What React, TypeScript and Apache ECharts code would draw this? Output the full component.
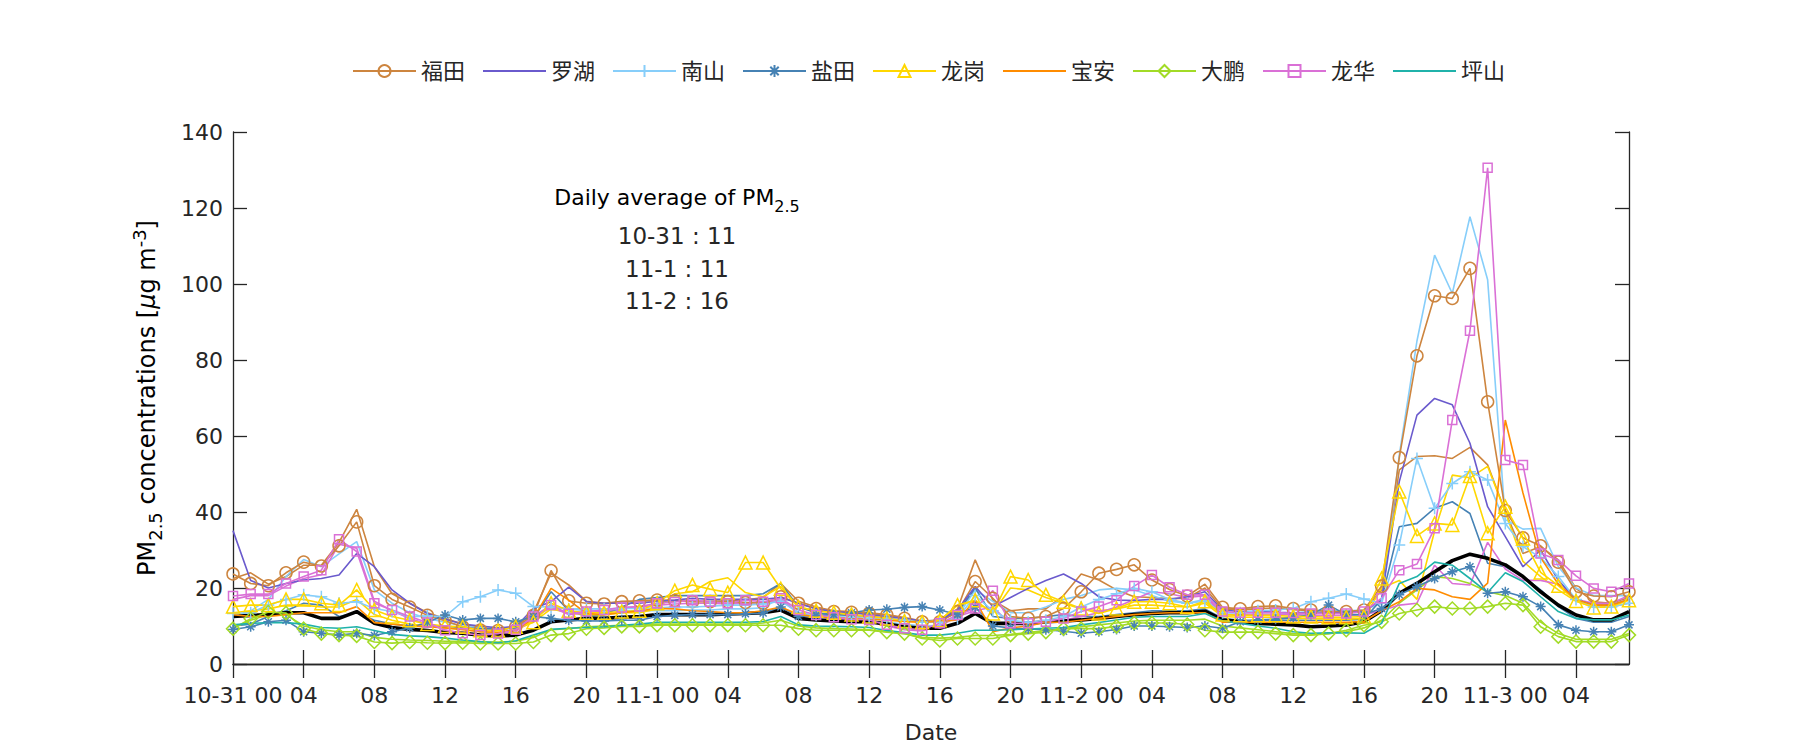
import React, { useEffect, useRef } from "react";
import * as echarts from "echarts";

// ---------- data ----------
const DAYS = ["10-31", "11-1", "11-2", "11-3"];
const N_HOURS = 80;
const CATEGORIES: string[] = [];
for (let i = 0; i < N_HOURS; i++) {
  const d = Math.floor(i / 24);
  const h = i % 24;
  CATEGORIES.push(h === 0 ? `${DAYS[d]} 00` : String(h).padStart(2, "0"));
}

const FUTIAN = [
  23.7, 21.2, 20.6, 24.0, 26.8, 25.8, 31.1, 37.4, 20.6, 17.0, 15.0, 12.8, 11.4, 9.8, 8.9, 8.8, 9.8, 12.8, 24.6, 16.6, 16.0, 15.8, 16.4, 16.6,
  16.8, 16.7, 16.4, 16.4, 16.4, 16.2, 16.0, 17.7, 16.0, 14.6, 13.8, 13.6, 13.3, 12.9, 12.0, 11.1, 11.1, 13.8, 21.7, 17.3, 12.5, 12.0, 12.5, 14.6,
  19.0, 23.9, 24.9, 26.1, 22.1, 19.6, 17.9, 21.0, 14.9, 14.5, 15.1, 15.3, 14.6, 14.2, 13.8, 13.8, 14.2, 20.5, 54.3, 81.1, 96.9, 96.2, 104.1, 69.0, 40.4, 33.2, 31.1, 26.8, 19.0, 17.9, 17.7, 19.0,
];
const FUTIAN_B = [
  22.5, 24, 21, 23, 26, 26, 32, 40.7, 25.6, 18.5, 16, 13.5, 12, 10.5, 9.5, 9.2, 10, 13.5, 23.9, 20.8, 16.5, 16, 16.5, 16.5,
  16.8, 16.5, 16.5, 16.5, 16.6, 16.8, 17.5, 21.2, 16.5, 15, 14, 13.8, 13.5, 13, 12.2, 11.3, 11.5, 14.5, 27.4, 16.8, 14.0, 14.5, 14.5, 18,
  23.7, 22.1, 19.5, 17.7, 17.5, 17.2, 17.3, 20.0, 14.5, 14.3, 14.5, 14.8, 14.3, 14.0, 13.6, 13.5, 14.0, 19.5, 51.1, 54.6, 54.8, 54.1, 57.0, 52.4, 40.1, 29.1, 30.9, 27.4, 19.9, 16.4, 16.0, 17.5,
];
const LUOHU = [
  35.1, 22, 20, 21.2, 22.1, 22.5, 23.4, 29.1, 25.6, 19.5, 16.0, 13.3, 11.8, 10.5, 10, 9.5, 9.8, 14.6, 16.4, 20.2, 16.4, 16.0, 16, 16,
  16.5, 16.8, 17.3, 17, 17, 17, 17, 17.5, 16, 14.5, 13.8, 13.5, 13, 12.5, 12, 11.3, 11.5, 14.2, 20.4, 15.1, 17.5, 19.9, 22, 23.7,
  21.2, 17.7, 16.8, 16.7, 17.0, 17.0, 17.7, 19.0, 14.2, 13.8, 13.8, 13.6, 13.5, 13.4, 13.4, 13.5, 13.8, 17, 48, 65.5, 69.9, 68.2, 58.1, 41.4, 33.5, 25.6, 30, 22, 17, 15.5, 15.5, 17,
];
const NANSHAN = [
  13.3, 13.5, 15.5, 17.0, 18.2, 17.7, 16.0, 16.4, 14.6, 13.8, 12.5, 12.6, 12.5, 16.4, 17.7, 19.5, 18.6, 15.1, 15, 14.5, 14.5, 14.5, 14.6, 14.6,
  14.8, 15, 15, 15.2, 15.5, 15.5, 15.8, 16.5, 13.5, 12.8, 12.5, 12.3, 12, 11.8, 11.5, 11, 11, 12, 18, 14, 11.5, 11, 11.5, 12.5,
  15, 17, 18.5, 19.9, 19, 17, 16, 16.5, 13.5, 13.5, 14, 14.2, 14.6, 16.4, 17.3, 18.4, 17.1, 16, 31.3, 54.1, 41.0, 47.5, 50.6, 48.4, 37.0, 30.9, 28, 23, 17, 15, 15, 16,
];
const NANSHAN_B = [
  12.5, 14, 17, 23, 27.5, 25.6, 29, 32.2, 19.5, 16, 13.5, 12, 11, 10, 9.5, 9, 9.5, 12.5, 15, 14.5, 14, 14, 14, 14,
  14, 14, 14.2, 14.2, 14.5, 14.5, 14.8, 17.5, 13, 12.5, 12, 11.8, 11.5, 11, 10.5, 10, 10.2, 12.5, 19.5, 16.5, 13.5, 13.5, 15, 17,
  18, 19.5, 19.9, 19.5, 18, 16.5, 16, 17, 13.5, 13.5, 13.5, 13.5, 13.5, 13.8, 14, 14, 14.2, 16, 55, 85, 107.6, 97.5, 117.7, 101.1, 38, 35.5, 35.7, 25.6, 20, 18, 18, 18,
];
const YANTIAN = [
  9.1, 9.8, 11.1, 11.5, 8.5, 8.1, 7.6, 8.1, 7.5, 8.5, 9.5, 11, 12.9, 11.6, 12.0, 12.0, 11.1, 12.5, 12, 11.5, 11.3, 11.3, 11.5, 11.5,
  12.5, 12.8, 13, 13, 13, 13.2, 13.4, 15, 12.5, 12.8, 13, 13.5, 14.2, 14.4, 14.9, 15.1, 14.2, 13, 15, 10, 9.5, 9.2, 9, 8.6,
  8.1, 8.5, 9.1, 10, 10, 9.8, 9.6, 10, 9.4, 11.1, 11.6, 11.8, 12.2, 13, 15.5, 13, 13, 14.6, 18.2, 20.4, 22.5, 24.3, 25.6, 18.6, 19.0, 17.7, 15.1, 10.3, 8.9, 8.5, 8.5, 10.3,
];
const YANTIAN_B = [
  10, 10.5, 12.5, 14, 16, 15.5, 12.5, 13.5, 11.5, 10.5, 10, 9.8, 10, 9.5, 9.3, 9.2, 9.5, 12, 19, 14, 12.5, 13, 15, 17,
  17.5, 18, 18, 18, 18, 18, 18.5, 21.2, 15, 13.5, 13, 12.8, 12.5, 12, 11.5, 11, 11.5, 13.5, 20, 12.5, 12, 12, 12.5, 13,
  12.5, 12.5, 13, 13.5, 14, 14, 14, 14.5, 12, 11.5, 11.5, 11.5, 11.5, 11.5, 11.5, 11.5, 11.8, 17, 36.1, 37.0, 41.0, 42.7, 39.6, 26.5, 25.6, 23.0, 19.5, 15.1, 12.0, 11, 11, 12.5,
];
const LONGGANG = [
  15.1, 15.5, 15.5, 17.0, 17.0, 16.0, 15.5, 19.5, 14.2, 12.5, 11.5, 10.5, 10, 9.8, 8.9, 8.8, 9.8, 11, 16, 14, 13.5, 13.5, 13.8, 14,
  16, 19.3, 20.8, 19.7, 18.8, 26.7, 26.7, 19.8, 15, 14, 13.5, 13, 12.5, 12, 11.3, 11, 11.5, 15.5, 16.8, 13.3, 23.0, 22.1, 18.2, 16.4,
  14.6, 13.3, 14.6, 16.4, 16.4, 16.0, 15, 16.5, 13, 12.8, 12.8, 12.8, 12.5, 12.5, 12.3, 12.3, 12.5, 22.5, 45.4, 33.7, 37, 36.6, 49.5, 34.4, 41.4, 33, 24.1, 20.6, 16.6, 14.9, 15.1, 16.8,
];
const LONGGANG_B = [
  13.5, 14, 14.5, 15.5, 15.5, 15, 15, 17, 13, 11.5, 10.5, 10, 9.5, 9.2, 8.5, 8.3, 9, 11, 14.5, 13.5, 13, 13, 13.5, 13.5,
  14.5, 18.5, 19.0, 21.7, 22.7, 18.8, 17.7, 20.4, 15, 14, 13.5, 13, 12.5, 12, 11.3, 11, 11.5, 15.5, 16.5, 13.5, 20, 19.5, 17.5, 16,
  14.5, 14, 14.5, 15.5, 15.5, 15.2, 15, 16, 12.5, 12.3, 12.3, 12.3, 12, 12, 11.8, 11.8, 12, 20, 22, 17, 35, 49.7, 49, 52, 40, 27, 23, 19.5, 16.5, 15, 15, 16,
];
const BAOAN = [
  13, 12.5, 12.5, 13, 13.5, 13.5, 13.5, 15.1, 10.9, 10.5, 10, 9.8, 9.5, 9, 8.5, 8.3, 9, 12, 19.9, 16.8, 13.3, 13, 13.5, 14,
  14.6, 14.5, 14, 13.8, 13.5, 13.5, 14, 15, 13, 12.5, 12.2, 12, 11.8, 11.5, 11.2, 11, 11.2, 11.6, 16.8, 8.5, 9.5, 10, 11, 11,
  11.5, 12, 12.5, 13, 13.3, 13.5, 13.5, 13.5, 11, 11, 11, 11, 11, 11, 11, 11, 11.2, 14, 16.4, 19.9, 19.5, 17.7, 17.0, 21.3, 64.2, 45, 28, 21, 17, 15.5, 15.5, 17,
];
const DAPENG = [
  9.3, 11.9, 13.7, 13.4, 9.3, 8.0, 7.6, 7.4, 5.8, 5.5, 5.8, 5.6, 5.5, 5.6, 5.4, 5.4, 5.4, 5.8, 7.6, 8.0, 9.3, 9.5, 9.9, 9.9,
  10.2, 10.2, 10.2, 10.2, 10.2, 10.2, 10.2, 10.2, 9.3, 8.9, 8.9, 8.9, 8.9, 8.4, 8.0, 6.7, 6.2, 6.7, 6.7, 6.7, 7.6, 8.0, 8.4, 9.3,
  9.3, 9.3, 9.9, 10.8, 10.8, 10.8, 10.4, 8.9, 8.4, 8.4, 8.4, 8.0, 7.6, 7.6, 8.0, 8.9, 10.2, 11.1, 13.3, 14.2, 15.1, 14.6, 14.6, 15.1, 16.0, 15.5, 9.8, 7.2, 5.9, 5.9, 5.9, 7.6,
];
const DAPENG_B = [
  9.5, 11.5, 13, 13, 10, 9, 8.5, 8.5, 7, 6.5, 6.3, 6.2, 6, 6, 5.8, 5.8, 6, 7, 9, 9.3, 9.8, 10, 10.2, 10.3,
  10.5, 10.5, 10.5, 10.5, 10.5, 10.5, 10.8, 11.5, 10, 9.5, 9.3, 9.2, 9, 8.5, 8, 7, 6.8, 7, 7.5, 7.5, 7.8, 8.3, 8.8, 9.3,
  9.8, 10.3, 10.8, 11.3, 11.5, 11.5, 11.5, 11.8, 10, 9.5, 9, 8.5, 8, 7.8, 8, 8.5, 9.5, 11.5, 16, 19.5, 23, 22.5, 21.2, 19, 18, 16, 11, 8, 6.5, 6.5, 6.5, 8,
];
const LONGHUA = [
  17.9, 18.4, 18.4, 21.2, 23.0, 24.7, 32.8, 29.6, 16.0, 14.2, 12.5, 10.9, 8.9, 8.1, 7.6, 8, 9, 12.5, 15.5, 13.2, 13.8, 14.2, 14.9, 15.1,
  16, 16.3, 16.8, 16.4, 16, 16.8, 16.4, 17.3, 14.2, 12.9, 12.3, 11.8, 11.6, 10.3, 9.4, 9, 10.7, 12.9, 14.6, 19.3, 10.7, 10.7, 11.1, 12,
  13.8, 15.1, 16.8, 20.5, 23.4, 20.2, 18.2, 18.2, 13.8, 13.5, 13.5, 13.5, 13.4, 13.3, 13.3, 13.3, 13.8, 17.3, 24.7, 26.3, 35.7, 64.2, 87.7, 130.6, 53.7, 52.4, 29.1, 27.4, 23.2, 19.9, 19.0, 21.2,
];
const LONGHUA_B = [
  17, 18, 18, 20.5, 22.5, 23.5, 31.5, 30.5, 16.5, 14, 12, 10.5, 9, 8, 7.5, 7.8, 8.5, 12, 15, 13, 13.5, 14, 14.5, 15,
  15.5, 15.8, 16, 16, 15.8, 16, 16.2, 16.8, 13.5, 12.5, 12, 11.5, 11.2, 10, 9, 8.7, 10, 12.5, 14, 15, 10.5, 10.5, 11, 11.5,
  12.5, 13.5, 15, 17, 19, 18.5, 17.5, 18, 13, 13, 13, 13, 13, 12.8, 12.8, 12.8, 13, 14, 15.5, 16, 26, 21.2, 20.8, 32, 25, 22, 22, 21, 17, 16, 16, 18,
];
const PINGSHAN = [
  10.3, 10.7, 10.9, 10.9, 10.5, 9.6, 9.4, 9.8, 8.8, 7.8, 7.4, 7.2, 6.8, 6.3, 5.9, 5.6, 6.1, 7.6, 9.1, 9.4, 9.6, 9.8, 10.2, 10.5,
  11, 11, 11, 11, 11, 11, 11.2, 12.5, 10.3, 10, 9.9, 9.8, 9.6, 8.8, 8.3, 7.6, 7.6, 8.1, 8.9, 8.9, 9, 9.2, 9.4, 9.6,
  10.3, 10.9, 11.6, 12.3, 12.5, 12.5, 12.5, 13.3, 11.4, 10.7, 10.0, 9.4, 8.5, 8.1, 8.2, 8.2, 8.1, 10.7, 21.2, 23.0, 26.8, 26, 22.5, 18.8, 24.0, 21.7, 17.7, 13.8, 12.0, 11.6, 11.6, 12.9,
];
const AVERAGE = [
  12.5, 12.8, 13, 13.5, 13.5, 12.0, 12.0, 13.8, 10.7, 9.6, 9.1, 8.8, 8.3, 8.1, 7.6, 7.4, 7.6, 8.9, 11.1, 11.6, 12.0, 12.0, 12.3, 12.5,
  13, 13, 13, 13, 13.2, 13.3, 13.5, 14.2, 12.0, 11.6, 11.3, 11.1, 11.1, 10.5, 9.8, 9.4, 9.4, 10.7, 13.3, 10.7, 10.7, 10.7, 11.1, 11.3,
  11.6, 12, 12.5, 13, 13.3, 13.5, 13.5, 13.9, 11.6, 11.2, 10.7, 10.5, 10.3, 9.8, 10, 10.3, 11.1, 14, 18.6, 21.2, 24.3, 27.2, 28.9, 27.8, 26.1, 23.0, 19.0, 15.5, 12.9, 11.6, 11.6, 13.8,
];

const NAMES = ["福田", "罗湖", "南山", "盐田", "龙岗", "宝安", "大鹏", "龙华", "坪山"];
const DAILY_LINES = ["10-31 : 11", "11-1 : 11", "11-2 : 16"];
const Y_TICKS = { min: 0, max: 140, interval: 20 };

// ---------- styling ----------
const FONT = "'DejaVu Sans', 'Noto Sans CJK SC', sans-serif";
const AX = "#262626";
const C = {
  futian: "#CD853F",
  luohu: "#6A5ACD",
  nanshan: "#87CEFA",
  yantian: "#4682B4",
  longgang: "#FFD700",
  baoan: "#FF8C00",
  dapeng: "#A2DB26",
  longhua: "#DA70D6",
  pingshan: "#20B2AA",
};
const PLUS = "path://M0,6L12,6M6,0L6,12";
const STAR = "path://M0,5L10,5M5,0L5,10M1.5,1.5L8.5,8.5M1.5,8.5L8.5,1.5";

function mk(name: string, data: number[], color: string, symbol?: string, size?: number, width = 1.6): any {
  return {
    type: "line",
    name,
    data,
    symbol: symbol || "none",
    symbolSize: size || 0,
    showSymbol: !!symbol,
    showAllSymbol: true,
    silent: true,
    lineStyle: { color, width },
    itemStyle: {
      color: "rgba(0,0,0,0)",
      borderColor: symbol ? color : "rgba(0,0,0,0)",
      borderWidth: symbol ? 1.5 : 0,
    },
    emphasis: { disabled: true },
  };
}

export default function App() {
  const ref = useRef<HTMLDivElement>(null);
  useEffect(() => {
    if (!ref.current) return;
    const chart = echarts.init(ref.current, undefined, { renderer: "svg" });
    const axisLine = { show: true, lineStyle: { color: AX, width: 1.3 } };
    const tick = { show: true, inside: true, length: 14, lineStyle: { color: AX, width: 1.3 } };
    const rich = (fs: number) => ({
      n: { fontSize: fs, fontFamily: FONT, lineHeight: 34, verticalAlign: "middle", color: AX },
      i: { fontSize: fs, fontFamily: FONT, lineHeight: 34, verticalAlign: "middle", fontStyle: "italic", color: AX },
      s: { fontSize: Math.round(fs * 0.73), fontFamily: FONT, lineHeight: 12, verticalAlign: "bottom", color: AX },
      p: { fontSize: Math.round(fs * 0.73), fontFamily: FONT, lineHeight: 12, verticalAlign: "top", color: AX },
    });
    const series: any[] = [
      mk("福田-b", FUTIAN_B, C.futian),
      mk("南山-b", NANSHAN_B, C.nanshan),
      mk("盐田-b", YANTIAN_B, C.yantian),
      mk("龙岗-b", LONGGANG_B, C.longgang),
      mk("大鹏-b", DAPENG_B, C.dapeng),
      mk("龙华-b", LONGHUA_B, C.longhua),
      mk("平均", AVERAGE, "#000000", undefined, 0, 3.6),
      mk("福田", FUTIAN, C.futian, "circle", 12),
      mk("罗湖", LUOHU, C.luohu),
      mk("南山", NANSHAN, C.nanshan, PLUS, 12),
      mk("盐田", YANTIAN, C.yantian, STAR, 10),
      mk("龙岗", LONGGANG, C.longgang, "triangle", 13),
      mk("宝安", BAOAN, C.baoan),
      mk("大鹏", DAPENG, C.dapeng, "diamond", 13),
      mk("龙华", LONGHUA, C.longhua, "rect", 9),
      mk("坪山", PINGSHAN, C.pingshan),
    ];
    chart.setOption({
      animation: false,
      backgroundColor: "#ffffff",
      textStyle: { fontFamily: FONT },
      legend: {
        data: NAMES,
        top: 55,
        left: 347,
        itemWidth: 63,
        itemHeight: 15,
        itemGap: 17,
        textStyle: { fontSize: 22, fontFamily: FONT, color: AX },
        selectedMode: false,
      },
      grid: { left: 233, top: 132, width: 1396, height: 532, containLabel: false },
      xAxis: [
        {
          type: "category",
          data: CATEGORIES,
          boundaryGap: false,
          position: "bottom",
          axisLine,
          axisTick: { ...tick, interval: 3 },
          axisLabel: {
            interval: 3,
            fontSize: 22,
            fontFamily: FONT,
            color: AX,
            margin: 20,
            hideOverlap: false,
          },
          splitLine: { show: false },
          name: "Date",
          nameLocation: "middle",
          nameGap: 57,
          nameTextStyle: { fontSize: 22, fontFamily: FONT, color: AX },
        },
        {
          type: "category",
          data: CATEGORIES,
          boundaryGap: false,
          position: "top",
          axisLine,
          axisTick: { ...tick, interval: 3 },
          axisLabel: { show: false },
          splitLine: { show: false },
        },
      ],
      yAxis: [
        {
          type: "value",
          ...Y_TICKS,
          position: "left",
          axisLine,
          axisTick: tick,
          axisLabel: { fontSize: 22, fontFamily: FONT, color: AX, margin: 10 },
          splitLine: { show: false },
        },
        {
          type: "value",
          ...Y_TICKS,
          position: "right",
          axisLine,
          axisTick: tick,
          axisLabel: { show: false },
          splitLine: { show: false },
        },
      ],
      graphic: [
        {
          type: "text",
          x: 147,
          y: 398,
          rotation: Math.PI / 2,
          style: {
            text: "{n|PM}{s|2.5}{n| concentrations [}{i|μ}{n|g m}{p|-3}{n|]}",
            rich: rich(24),
            align: "center",
            verticalAlign: "middle",
          },
          silent: true,
        },
        {
          type: "text",
          x: 677,
          y: 197,
          style: {
            text: "{n|Daily average of PM}{s|2.5}",
            rich: rich(22),
            align: "center",
            verticalAlign: "middle",
          },
          silent: true,
        },
        ...DAILY_LINES.map((t, k) => ({
          type: "text",
          x: 677,
          y: [236, 269, 301][k],
          style: {
            text: t,
            fontSize: 23,
            fontFamily: FONT,
            fill: AX,
            align: "center",
            verticalAlign: "middle",
          },
          silent: true,
        })),
      ],
      series,
    });
    return () => chart.dispose();
  }, []);
  return (
    <div
      ref={ref}
      style={{ position: "absolute", left: 0, top: 0, width: 1800, height: 750, background: "#fff" }}
    />
  );
}
